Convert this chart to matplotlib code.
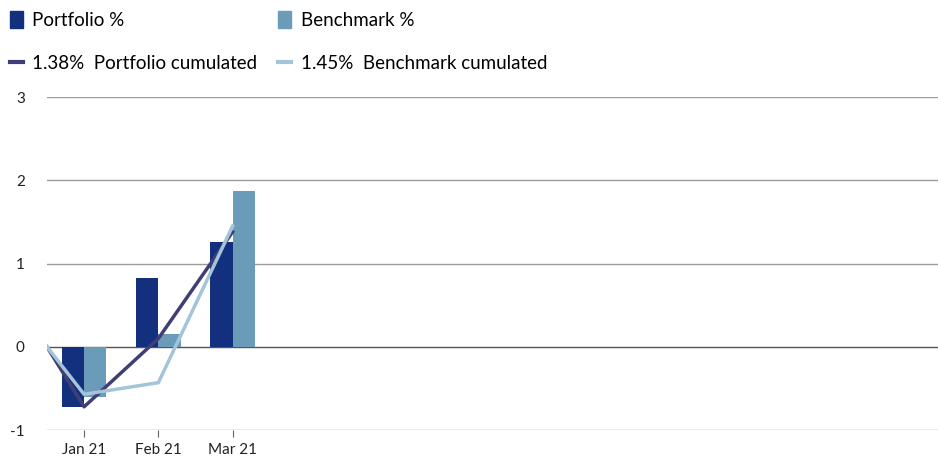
import numpy as np
import matplotlib.pyplot as plt
from matplotlib.patches import Patch
from matplotlib.lines import Line2D

plt.rcParams['font.family'] = ['Lato', 'DejaVu Sans']

# data
months = ["Jan 21", "Feb 21", "Mar 21"]
n_slots = 12
portfolio = [-0.72, 0.83, 1.26]
benchmark = [-0.60, 0.15, 1.87]
portfolio_cum = [0.0, -0.72, 0.10, 1.38]
benchmark_cum = [0.0, -0.57, -0.43, 1.45]
yticks = [-1, 0, 1, 2, 3]

c_port = "#13307f"
c_bench = "#6a9cb9"
c_port_line = "#403f75"
c_bench_line = "#a4c4d9"

fig = plt.figure(figsize=(9.38, 4.61), dpi=100)
ax = fig.add_axes([0.0501, 0.067, 0.9499, 0.7225])

x = np.arange(len(months))
w = 0.3
ax.bar(x - w / 2, portfolio, w, color=c_port, zorder=2)
ax.bar(x + w / 2, benchmark, w, color=c_bench, zorder=2)

# cumulated lines start at the left edge of the plot
xl = np.concatenate([[-0.5], x])
ax.plot(xl, portfolio_cum, color=c_port_line, lw=2.5, zorder=3)
ax.plot(xl, benchmark_cum, color=c_bench_line, lw=2.5, zorder=3)

ax.set_xlim(-0.5, n_slots - 0.5)
ax.set_ylim(-1, 3)
ax.set_yticks(yticks)
ax.set_yticklabels([str(t) for t in yticks], fontsize=11, color="#222222")
ax.set_xticks(x)
ax.set_xticklabels(months, fontsize=11, color="#222222")
ax.tick_params(axis="y", length=0, pad=16)
ax.tick_params(axis="x", length=5, color="#666666", pad=4)

for t in yticks:
    ax.axhline(t, color="#9a9a9a" if t != 0 else "#555555", lw=1, zorder=1)
for s in ax.spines.values():
    s.set_visible(False)

handles = [
    Patch(color=c_port, label="Portfolio %"),
    Line2D([], [], color=c_port_line, lw=3, label="1.38%  Portfolio cumulated"),
    Patch(color=c_bench, label="Benchmark %"),
    Line2D([], [], color=c_bench_line, lw=3, label="1.45%  Benchmark cumulated"),
]
fig.legend(handles=handles, ncol=2, loc="upper left", bbox_to_anchor=(10 / 938, 1 - 11 / 461),
           frameon=False, fontsize=13.5, handlelength=0.7, handleheight=1.0,
           handletextpad=0.5, columnspacing=1.1, labelspacing=1.35,
           borderpad=0, borderaxespad=0)

fig.savefig("out.png", dpi=100)
